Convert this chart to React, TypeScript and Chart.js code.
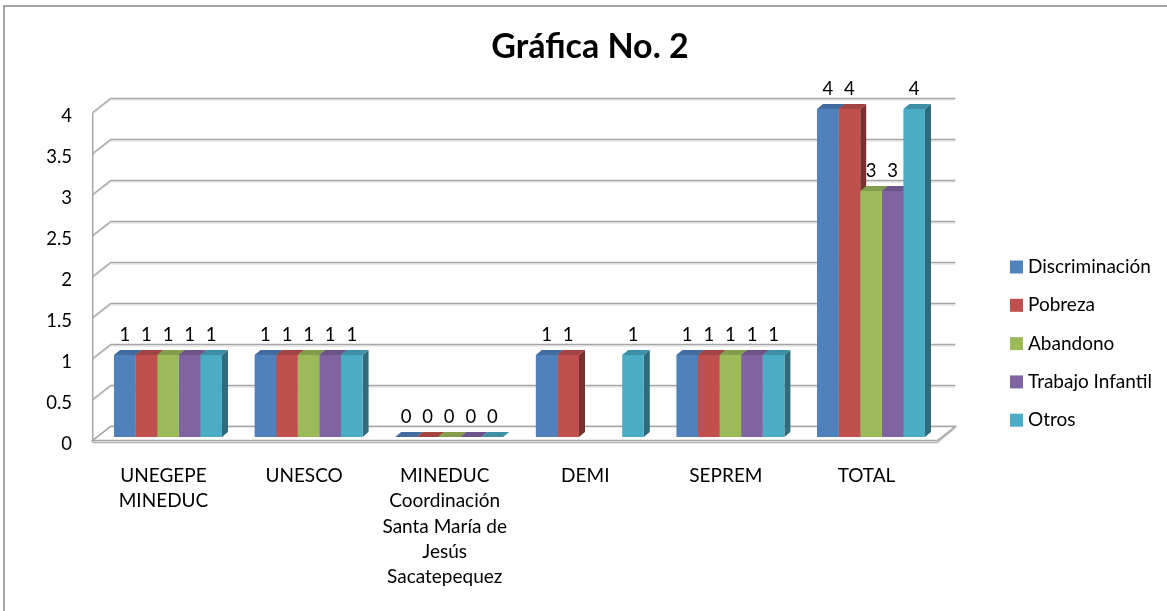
import React, { useEffect, useRef } from "react";
import { Chart, registerables } from "chart.js";

Chart.register(...registerables);

// ---------- data ----------
const categories: string[][] = [
  ["UNEGEPE", "MINEDUC"],
  ["UNESCO"],
  ["MINEDUC", "Coordinación", "Santa María de", "Jesús", "Sacatepequez"],
  ["DEMI"],
  ["SEPREM"],
  ["TOTAL"],
];
const seriesNames = ["Discriminación", "Pobreza", "Abandono", "Trabajo Infantil", "Otros"];
const discriminacion: (number | null)[] = [1, 1, 0, 1, 1, 4];
const pobreza: (number | null)[] = [1, 1, 0, 1, 1, 4];
const abandono: (number | null)[] = [1, 1, 0, null, 1, 3];
const trabajoInfantil: (number | null)[] = [1, 1, 0, null, 1, 3];
const otros: (number | null)[] = [1, 1, 0, 1, 1, 4];
const yTicks = [0, 0.5, 1, 1.5, 2, 2.5, 3, 3.5, 4];
const yTickLabels = ["0", "0.5", "1", "1.5", "2", "2.5", "3", "3.5", "4"];
const chartTitle = "Gráfica No. 2";

// ---------- style ----------
const colors = ["#4F81BD", "#C0504D", "#9BBB59", "#8064A2", "#4BACC6"];
const FONT = "Lato, 'Open Sans', sans-serif";
const W = 1167;
const H = 611;
const GRID = "#a6a6a6";
const GRID_LIGHT = "#dcdcdc";
const FRONT_DX = -5, FRONT_DY = 3.5; // front plane relative to bar plane
const BACK_DX = 13, BACK_DY = -10.5; // back wall relative to bar plane
const BAR_DX = 6, BAR_DY = -5; // bar depth

function shade(hex: string, f: number) {
  const n = parseInt(hex.slice(1), 16);
  const r = Math.round(((n >> 16) & 255) * f);
  const g = Math.round(((n >> 8) & 255) * f);
  const b = Math.round((n & 255) * f);
  return `rgb(${r},${g},${b})`;
}

const threeD = {
  id: "threeD",
  beforeDatasetsDraw(chart: any) {
    const ctx = chart.ctx as CanvasRenderingContext2D;
    const ca = chart.chartArea;
    const y = chart.scales.y;
    const fx0 = ca.left + FRONT_DX;
    const bx0 = ca.left + BACK_DX;
    const bx1 = ca.right + BACK_DX + 1;
    const fx1 = ca.right + FRONT_DX + 1;
    ctx.save();
    // frame
    ctx.strokeStyle = "#878787";
    ctx.lineWidth = 1.5;
    ctx.beginPath();
    ctx.moveTo(4, H);
    ctx.lineTo(4, 6);
    ctx.lineTo(W, 6);
    ctx.stroke();

    // gridlines on walls
    yTicks.forEach((v) => {
      const yf = y.getPixelForValue(v) + FRONT_DY;
      const yb = y.getPixelForValue(v) + BACK_DY;
      ctx.strokeStyle = GRID_LIGHT;
      ctx.lineWidth = 1;
      ctx.beginPath();
      ctx.moveTo(fx0, yf + 1.5);
      ctx.lineTo(bx0, yb + 1.5);
      ctx.lineTo(bx1, yb + 1.5);
      ctx.stroke();
      ctx.strokeStyle = GRID;
      ctx.lineWidth = 1.5;
      ctx.beginPath();
      ctx.moveTo(fx0, yf);
      ctx.lineTo(bx0, yb);
      ctx.lineTo(bx1, yb);
      ctx.stroke();
    });
    // front vertical axis
    ctx.strokeStyle = GRID;
    ctx.lineWidth = 1.5;
    ctx.beginPath();
    ctx.moveTo(fx0, y.getPixelForValue(4) + FRONT_DY);
    ctx.lineTo(fx0, y.getPixelForValue(0) + FRONT_DY + 2);
    ctx.stroke();

    // floor
    const yf0 = y.getPixelForValue(0) + FRONT_DY;
    const yb0 = y.getPixelForValue(0) + BACK_DY;
    ctx.fillStyle = "#ffffff";
    ctx.beginPath();
    ctx.moveTo(fx0, yf0);
    ctx.lineTo(fx1, yf0);
    ctx.lineTo(bx1, yb0);
    ctx.lineTo(bx0, yb0);
    ctx.closePath();
    ctx.fill();
    ctx.strokeStyle = GRID;
    ctx.lineWidth = 1.5;
    ctx.stroke();
    ctx.strokeStyle = "#b5b5b5";
    ctx.lineWidth = 1.5;
    ctx.beginPath();
    ctx.moveTo(fx0, yf0 + 2);
    ctx.lineTo(fx1, yf0 + 2);
    ctx.lineTo(bx1, yb0 + 1);
    ctx.stroke();

    // y tick labels
    ctx.fillStyle = "#000";
    ctx.font = `18.5px ${FONT}`;
    ctx.textAlign = "right";
    ctx.textBaseline = "middle";
    yTicks.forEach((v, i) => {
      ctx.fillText(yTickLabels[i], 72, y.getPixelForValue(v) + 7);
    });

    // category labels
    const xs = chart.scales.x;
    ctx.font = `19px ${FONT}`;
    ctx.textAlign = "center";
    categories.forEach((lines, i) => {
      const cx = xs.getPixelForValue(i) - 4.5;
      lines.forEach((ln, k) => ctx.fillText(ln, cx, 476 + k * 25.3));
    });

    // data labels (drawn before bars so bar sides may overlap them)
    ctx.font = `18.5px ${FONT}`;
    chart.data.datasets.forEach((ds: any, di: number) => {
      const meta = chart.getDatasetMeta(di);
      meta.data.forEach((el: any, i: number) => {
        const v = ds.data[i];
        if (v === null || v === undefined) return;
        ctx.fillText(String(v), el.x, el.y - 20);
      });
    });

    // bar sides + tops (fronts drawn by chart.js afterwards)
    const n = chart.data.labels.length;
    for (let i = 0; i < n; i++) {
      chart.data.datasets.forEach((ds: any, di: number) => {
        const v = ds.data[i];
        if (v === null || v === undefined) return;
        const el: any = chart.getDatasetMeta(di).data[i];
        const xl = el.x - el.width / 2;
        const xr = el.x + el.width / 2;
        const top = el.y;
        const base = el.base;
        const c = colors[di];
        // side
        ctx.fillStyle = shade(c, 0.62);
        ctx.beginPath();
        ctx.moveTo(xr, top);
        ctx.lineTo(xr + BAR_DX, top + BAR_DY);
        ctx.lineTo(xr + BAR_DX, base + BAR_DY);
        ctx.lineTo(xr, base);
        ctx.closePath();
        ctx.fill();
        // top
        ctx.fillStyle = shade(c, 0.84);
        ctx.beginPath();
        ctx.moveTo(xl, top);
        ctx.lineTo(xr, top);
        ctx.lineTo(xr + BAR_DX, top + BAR_DY);
        ctx.lineTo(xl + BAR_DX, top + BAR_DY);
        ctx.closePath();
        ctx.fill();
      });
    }

    // title
    ctx.font = `bold 34px ${FONT}`;
    ctx.textAlign = "center";
    ctx.fillStyle = "#000";
    ctx.fillText(chartTitle, 590, 47);

    // legend
    ctx.font = `19px ${FONT}`;
    ctx.textAlign = "left";
    seriesNames.forEach((name, k) => {
      const cy = 267 + k * 38.3;
      ctx.fillStyle = colors[k];
      ctx.fillRect(1010, cy - 6.5, 13, 13);
      ctx.fillStyle = "#000";
      ctx.fillText(name, 1028, cy);
    });
    ctx.restore();
  },
};

export default function App() {
  const ref = useRef<HTMLCanvasElement>(null);
  useEffect(() => {
    if (!ref.current) return;
    const series = [discriminacion, pobreza, abandono, trabajoInfantil, otros];
    const chart = new Chart(ref.current, {
      type: "bar",
      data: {
        labels: categories.map((c) => c.join(" ")),
        datasets: series.map((d, i) => ({
          label: seriesNames[i],
          data: d,
          backgroundColor: colors[i],
          borderWidth: 0,
          categoryPercentage: 0.768,
          barPercentage: 1,
        })),
      },
      options: {
        responsive: false,
        animation: false,
        devicePixelRatio: 1,
        layout: { padding: { left: 97.7, right: W - 941.3, top: 109, bottom: H - 437 } },
        plugins: { legend: { display: false }, tooltip: { enabled: false }, title: { display: false } },
        scales: {
          x: { display: false, grid: { display: false } },
          y: { display: false, min: 0, max: 4 },
        },
      },
      plugins: [threeD],
    });
    return () => chart.destroy();
  }, []);
  return (
    <div style={{ position: "absolute", left: 0, top: 0, width: W, height: H, overflow: "hidden", background: "#fff" }}>
      <canvas ref={ref} width={W} height={H} style={{ display: "block", width: W, height: H }} />
    </div>
  );
}
